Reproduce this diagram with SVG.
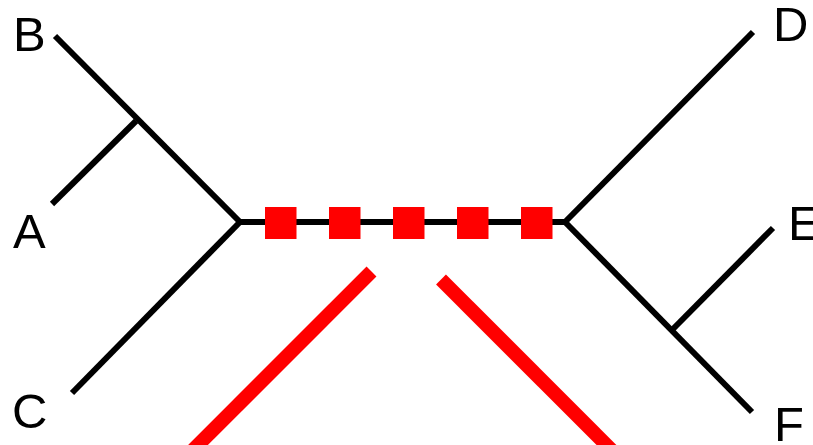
<svg xmlns="http://www.w3.org/2000/svg" width="813" height="445" viewBox="0 0 813 445">
  <style>
    .br { stroke: #000; stroke-width: 6; stroke-linecap: butt; fill: none; }
    .sq { fill: #ff0000; }
    .rl { stroke: #ff0000; stroke-width: 14; stroke-linecap: butt; fill: none; }
    .lbl { font-family: "Liberation Sans", Arial, sans-serif; font-size: 49px; fill: #000; }
  </style>
  <rect width="813" height="445" fill="#fff"/>
  <g id="connectors">
    <line class="br" x1="55" y1="36" x2="240" y2="222"/>
    <line class="br" x1="52" y1="204" x2="136" y2="121"/>
    <line class="br" x1="72" y1="393" x2="240" y2="222"/>
    <line class="br" x1="240" y1="222" x2="565" y2="222"/>
    <line class="br" x1="565" y1="222" x2="753" y2="32"/>
    <line class="br" x1="565" y1="222" x2="752" y2="412"/>
    <line class="br" x1="673" y1="329" x2="773" y2="228"/>
  </g>
  <g id="markers">
    <rect class="sq" x="265" y="207" width="31.5" height="32"/>
    <rect class="sq" x="329" y="207" width="31.5" height="32"/>
    <rect class="sq" x="393" y="207" width="31.5" height="32"/>
    <rect class="sq" x="457" y="207" width="31.5" height="32"/>
    <rect class="sq" x="521" y="207" width="31.5" height="32"/>
  </g>
  <g id="red-lines">
    <line class="rl" x1="371.5" y1="271.5" x2="190" y2="453"/>
    <line class="rl" x1="441" y1="279.5" x2="615" y2="453.5"/>
  </g>
  <g id="node-B"><text class="lbl" x="13" y="51">B</text></g>
  <g id="node-A"><text class="lbl" x="13" y="248">A</text></g>
  <g id="node-C"><text class="lbl" x="12" y="428">C</text></g>
  <g id="node-D"><text class="lbl" x="773" y="41">D</text></g>
  <g id="node-E"><text class="lbl" x="788" y="240">E</text></g>
  <g id="node-F"><text class="lbl" x="774" y="441">F</text></g>
</svg>
